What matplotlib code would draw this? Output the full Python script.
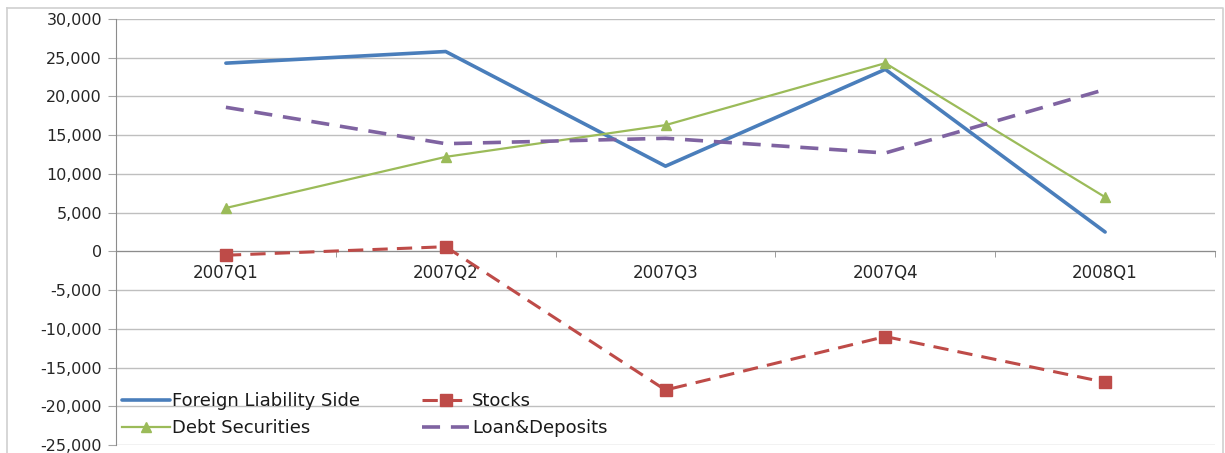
import matplotlib.pyplot as plt
import numpy as np
from matplotlib.lines import Line2D
from matplotlib.ticker import FuncFormatter

quarters = ["2007Q1", "2007Q2", "2007Q3", "2007Q4", "2008Q1"]
foreign_liability = [24300, 25800, 11000, 23500, 2500]
stocks = [-500, 600, -17900, -11000, -16900]
debt_securities = [5600, 12200, 16300, 24300, 7000]
loan_deposits = [18600, 13900, 14600, 12700, 20900]

W, H = 1225, 453
fig = plt.figure(figsize=(W / 100, H / 100), dpi=100)
ax = fig.add_axes([116 / W, 1 - 445 / H, (1215 - 116) / W, (445 - 19) / H])

x = np.arange(len(quarters))
ax.plot(x, foreign_liability, color="#4A7EBB", lw=2.6, solid_capstyle="round",
        label="Foreign Liability Side", zorder=3)
ax.plot(x, debt_securities, color="#9BBB59", lw=1.6, marker="^", ms=7,
        label="Debt Securities", zorder=3)
ax.plot(x, stocks, color="#BE4B48", lw=2.2, dashes=(5, 3), marker="s", ms=8,
        label="Stocks", zorder=3)
ax.plot(x, loan_deposits, color="#7F63A1", lw=2.6, dashes=(5, 3),
        label="Loan&Deposits", zorder=3)

ax.set_xlim(-0.5, len(quarters) - 0.5)
ax.set_ylim(-25000, 30000)
ax.set_yticks(np.arange(-25000, 30001, 5000))
ax.yaxis.set_major_formatter(FuncFormatter(lambda v, p: f"{int(v):,}"))
ax.yaxis.grid(True, color="#BFBFBF", lw=1)
ax.set_axisbelow(True)

ax.set_xticks(x)
ax.set_xticklabels(quarters)
ax.set_xticks(np.arange(-0.5, len(quarters), 1), minor=True)
ax.tick_params(axis="x", which="major", length=0, pad=9, labelsize=12,
               labelcolor="#262626")
ax.tick_params(axis="x", which="minor", length=4, color="#8C8C8C", direction="out")
ax.tick_params(axis="y", length=6, color="#A6A6A6", labelsize=11.5,
               labelcolor="#262626", pad=4)

for s in ["top", "right"]:
    ax.spines[s].set_visible(False)
ax.spines["bottom"].set_position(("data", 0))
ax.spines["bottom"].set_color("#8C8C8C")
ax.spines["left"].set_color("#8C8C8C")

handles, labels = ax.get_legend_handles_labels()
leg = ax.legend(handles, labels, ncol=2, loc="lower left",
                bbox_to_anchor=(-0.002, 0.0),
                frameon=False, fontsize=13, handlelength=2.7, handletextpad=0.1,
                columnspacing=3.4, labelspacing=0.5, borderaxespad=0.03)
for t in leg.get_texts():
    t.set_color("#1a1a1a")

# outer chart border
fig.add_artist(Line2D([7 / W, 1223 / W, 1223 / W], [1 - 8 / H, 1 - 8 / H, 0],
                      color="#D0D0D0", lw=1.2))
fig.add_artist(Line2D([7 / W, 7 / W], [1 - 8 / H, 0], color="#D0D0D0", lw=1.2))

fig.savefig("out.png", dpi=100)
